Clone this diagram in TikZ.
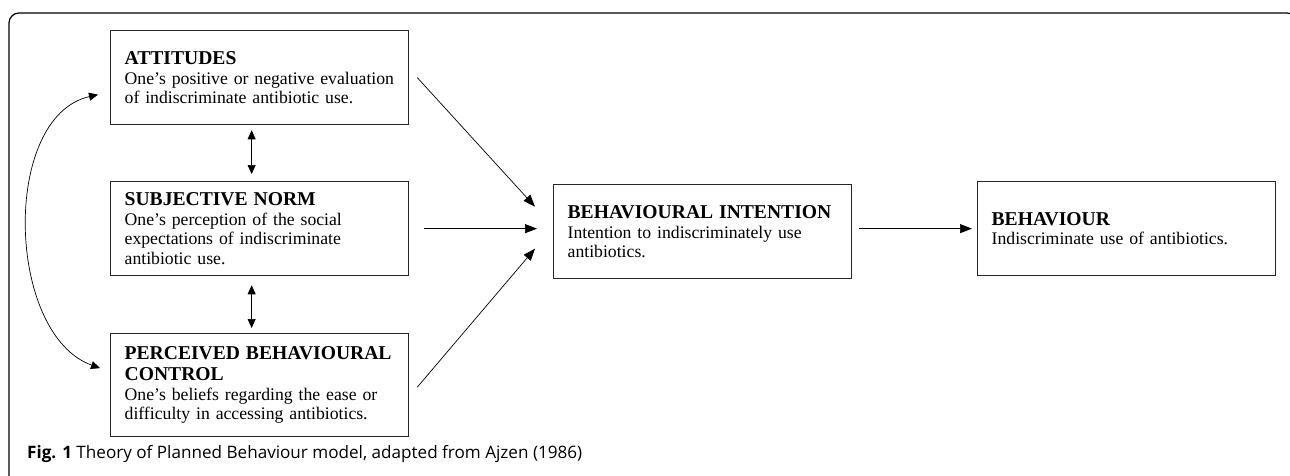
\documentclass[tikz,border=0pt]{standalone}
\usepackage{fontspec}
\setmainfont{Liberation Serif}
\newfontfamily\capfont{Open Sans}
\usetikzlibrary{arrows.meta,positioning,calc}

\newcommand{\boxhead}[1]{{\fontsize{19.6}{22}\selectfont\bfseries #1}}

\begin{document}
\begin{tikzpicture}[
x=1pt, y=-1pt, >={Triangle[length=12pt,width=9pt]},
tpb-box/.style = {draw=black!85, line width=1.3pt, anchor=north west, text width=270pt,
  inner xsep=14pt, inner ysep=4pt, align=left, minimum height=94pt,
  font=\fontsize{17.7}{19.5}\selectfont},
tpb-arrow/.style = {->, line width=0.7pt},
tpb-both/.style = {<->, line width=0.7pt, >={Triangle[length=9pt,width=8pt]}}
]
\useasboundingbox (0,0) rectangle (1290,476);

% frame
\draw[line width=1.2pt, rounded corners=10pt] (9,520) -- (9,13) -- (1297,13) -- (1297,520);

% boxes
\node [tpb-box] (att) at (110,30) {\boxhead{ATTITUDES}\\ One’s positive or negative evaluation\\ of indiscriminate antibiotic use.};
\node [tpb-box] (sn) at (110,181) {\boxhead{SUBJECTIVE NORM}\\ One’s perception of the social\\ expectations of indiscriminate\\ antibiotic use.};
\node [tpb-box, minimum height=103pt] (pbc) at (110,333) {\boxhead{PERCEIVED BEHAVIOURAL}\\[2pt] \boxhead{CONTROL}\\ One’s beliefs regarding the ease or\\ difficulty in accessing antibiotics.};
\node [tpb-box] (bi) at (553,184) {\boxhead{BEHAVIOURAL INTENTION}\\ Intention to indiscriminately use\\ antibiotics.};
\node [tpb-box] (beh) at (977,181) {\boxhead{BEHAVIOUR}\\ Indiscriminate use of antibiotics.};

% caption
\node [anchor=base west, inner sep=0pt, font=\capfont\fontsize{17.1}{19}\selectfont] (cap) at (27,458)
  {\textbf{Fig. 1} Theory of Planned Behaviour model, adapted from Ajzen (1986)};

% arrows
\draw[tpb-both] ($(att.south)+(-8,5)$) -- ($(sn.north)+(-8,-7)$);
\draw[tpb-both] ($(sn.south)+(-8,9)$) -- ($(pbc.north)+(-8,-5)$);
\draw[tpb-both] ($(att.west)+(-12,17)$) .. controls +(-97,22) and +(-94,-34) .. ($(pbc.west)+(-10,-17)$);
\draw[tpb-arrow] ($(att.east)+(8,0)$) -- ($(bi.west)+(-18,-25)$);
\draw[tpb-arrow] ($(sn.east)+(15,0)$) -- ($(bi.west |- sn.east)+(-16,0)$);
\draw[tpb-arrow] ($(pbc.east)+(8,2)$) -- ($(bi.west)+(-18,17)$);
\draw[tpb-arrow] ($(bi.east |- beh.west)+(7,0)$) -- ($(beh.west)+(-5,0)$);

\end{tikzpicture}
\end{document}
